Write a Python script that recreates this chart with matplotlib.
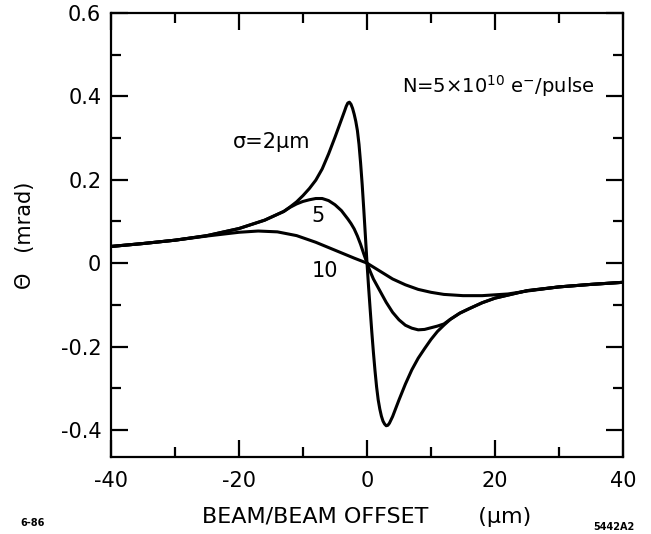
import matplotlib
matplotlib.use("Agg")
import matplotlib.pyplot as plt
from matplotlib.ticker import FixedLocator, MultipleLocator

plt.rcParams["font.family"] = ["DejaVu Sans"]
plt.rcParams["axes.unicode_minus"] = False

# Deflection angle (mrad) versus beam/beam offset (um) for three beam sizes
x_sigma2 = [-40, -35, -30, -25, -20, -16, -13, -12, -11, -10, -9, -8, -7, -6, -5,
            -4.5, -4, -3.5, -3.25, -3, -2.75, -2.5, -2.25, -2, -1.75, -1.5,
            -1.25, -1, -0.75, -0.5, -0.25, 0, 0.25, 0.5, 0.75, 1, 1.25, 1.5,
            1.75, 2, 2.25, 2.5, 2.75, 3, 3.25, 3.5, 4, 4.5, 5, 5.5, 6, 7, 8, 9,
            10, 11, 12, 13, 14.5, 16, 18, 20, 25, 30, 35, 40]
y_sigma2 = [0.040, 0.047, 0.055, 0.066, 0.083, 0.103, 0.124, 0.135, 0.147, 0.162,
            0.179, 0.199, 0.226, 0.262, 0.302, 0.323, 0.344, 0.365, 0.376,
            0.384, 0.386, 0.381, 0.371, 0.357, 0.340, 0.318, 0.285, 0.240,
            0.188, 0.128, 0.065, 0.0, -0.058, -0.112, -0.165, -0.214, -0.258,
            -0.297, -0.328, -0.350, -0.367, -0.379, -0.386, -0.390, -0.389,
            -0.384, -0.368, -0.348, -0.328, -0.309, -0.290, -0.256, -0.228,
            -0.205, -0.183, -0.164, -0.149, -0.135, -0.120, -0.109, -0.095,
            -0.084, -0.066, -0.057, -0.051, -0.046]

x_sigma5 = [-40, -35, -30, -25, -20, -16, -13, -12, -11, -10, -9, -8, -7, -6, -5,
            -4, -3, -2.5, -2, -1.5, -1, -0.5, 0, 0.5, 1, 1.5, 2, 2.5, 3, 4, 5,
            6, 7, 8, 9, 10, 11, 12, 13, 14.5, 16, 18, 20, 25, 30, 35, 40]
y_sigma5 = [0.040, 0.047, 0.055, 0.066, 0.083, 0.103, 0.124, 0.134, 0.142, 0.148,
            0.152, 0.155, 0.155, 0.150, 0.140, 0.126, 0.106, 0.095, 0.082,
            0.065, 0.045, 0.022, 0.0, -0.020, -0.038, -0.052, -0.066, -0.080,
            -0.094, -0.118, -0.136, -0.149, -0.156, -0.160, -0.159, -0.155,
            -0.151, -0.146, -0.135, -0.120, -0.109, -0.095, -0.084, -0.066,
            -0.057, -0.051, -0.046]

x_sigma10 = [-40, -35, -30, -25, -20, -17, -14, -11, -8, -5, -2, 0, 2, 4, 6, 8,
             10, 12, 15, 18, 22, 25, 30, 35, 40]
y_sigma10 = [0.040, 0.047, 0.055, 0.065, 0.074, 0.077, 0.075, 0.066, 0.050,
             0.031, 0.012, 0.0, -0.019, -0.038, -0.052, -0.063, -0.070, -0.075,
             -0.078, -0.078, -0.074, -0.067, -0.057, -0.051, -0.046]

curve_labels = ["σ=2μm", "5", "10"]
x_ticks = [-40, -20, 0, 20, 40]
x_tick_labels = ["-40", "-20", "0", "20", "40"]
y_ticks = [-0.4, -0.2, 0.0, 0.2, 0.4, 0.6]
y_tick_labels = ["-0.4", "-0.2", "0", "0.2", "0.4", "0.6"]
beam_note = r"N=5$\times$10$^{10}$ e$^{-}$/pulse"

fig = plt.figure(figsize=(6.51, 5.34), dpi=100)
ax = fig.add_axes([0.1705, 0.1442, 0.7865, 0.8315])

for xs, ys in [(x_sigma2, y_sigma2), (x_sigma5, y_sigma5), (x_sigma10, y_sigma10)]:
    ax.plot(xs, ys, color="black", lw=2.2, solid_joinstyle="round",
            solid_capstyle="round")

ax.set_xlim(-40, 40)
ax.set_ylim(-0.465, 0.6)

ax.xaxis.set_major_locator(FixedLocator(x_ticks))
ax.set_xticklabels(x_tick_labels)
ax.xaxis.set_minor_locator(MultipleLocator(10))
ax.yaxis.set_major_locator(FixedLocator(y_ticks))
ax.set_yticklabels(y_tick_labels)
ax.yaxis.set_minor_locator(MultipleLocator(0.1))

ax.tick_params(which="both", direction="in", top=True, right=True, width=1.6,
               colors="black")
ax.tick_params(which="major", length=12, labelsize=15)
ax.tick_params(which="minor", length=7)
ax.tick_params(axis="x", which="major", pad=10)
ax.tick_params(axis="y", which="major", pad=7)

for spine in ax.spines.values():
    spine.set_linewidth(1.6)

ax.set_xlabel("BEAM/BEAM OFFSET       (μm)", fontsize=16)
ax.xaxis.set_label_coords(0.5, -0.112)
ax.set_ylabel("Θ   (mrad)", fontsize=15)
ax.yaxis.set_label_coords(-0.148, 0.5)

ax.text(-20.9, 0.29, curve_labels[0], fontsize=15, ha="left", va="center")
ax.text(-7.6, 0.112, curve_labels[1], fontsize=15, ha="center", va="center")
ax.text(-6.6, -0.019, curve_labels[2], fontsize=15, ha="center", va="center")
ax.text(5.5, 0.424, beam_note, fontsize=14, ha="left", va="center")

fig.text(20 / 651, 1 - 523 / 534, "6-86", fontsize=7, fontweight="bold",
         ha="left", va="center")
fig.text(635 / 651, 1 - 527 / 534, "5442A2", fontsize=7, fontweight="bold",
         ha="right", va="center")

fig.savefig("out.png", dpi=100, facecolor="white")
